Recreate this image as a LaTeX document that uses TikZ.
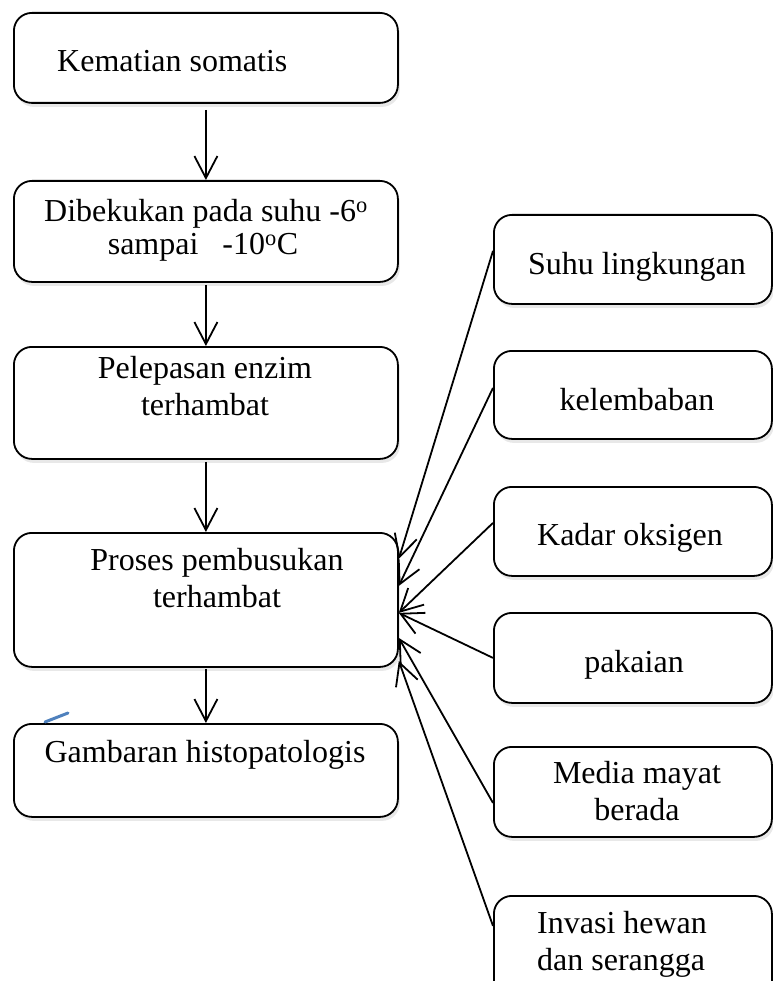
\documentclass[tikz,border=0pt]{standalone}
\usepackage{fontspec}
\setmainfont{Liberation Serif}
\usetikzlibrary{arrows.meta,shadows}
\begin{document}
\begin{tikzpicture}[x=1pt,y=-1pt,
  box/.style={draw=black, line width=1.8pt, rounded corners=18pt, fill=white,
    drop shadow={opacity=0.18, shadow xshift=2pt, shadow yshift=-4pt},
    inner sep=0pt, anchor=north west},
  lbl/.style={inner sep=0pt, font=\fontsize{32}{37}\selectfont},
  arr/.style={line width=1.8pt, -{Straight Barb[length=22pt,width=23pt,line width=1.8pt]}},
  bluestroke/.style={draw={rgb,255:red,79;green,129;blue,189}, line width=3pt, line cap=round},
]
\useasboundingbox (0,0) rectangle (772,981);

% left column boxes
\node[box, minimum width=384pt, minimum height=90pt]  (b1) at (13,12)  {};
\node[box, minimum width=384pt, minimum height=101pt] (b2) at (13,180) {};
\node[box, minimum width=384pt, minimum height=112pt] (b3) at (13,346) {};
\node[box, minimum width=384pt, minimum height=134pt] (b4) at (13,532) {};
\node[box, minimum width=384pt, minimum height=93pt]  (b5) at (13,723) {};

% right column boxes
\node[box, minimum width=278pt, minimum height=89pt]  (r1) at (493,214) {};
\node[box, minimum width=278pt, minimum height=88pt]  (r2) at (493,350) {};
\node[box, minimum width=278pt, minimum height=89pt]  (r3) at (493,486) {};
\node[box, minimum width=278pt, minimum height=90pt]  (r4) at (493,612) {};
\node[box, minimum width=278pt, minimum height=90pt]  (r5) at (493,746) {};
\node[box, minimum width=278pt, minimum height=110pt] (r6) at (493,895) {};

% texts
\node[lbl, anchor=base west] (t1)  at (57,72)   {Kematian somatis};
\node[lbl, anchor=base] (t2a) at (206,222) {Dibekukan pada suhu -6\textsuperscript{o}};
\node[lbl, anchor=base] (t2b) at (203,255) {sampai \ \ -10\textsuperscript{o}C};
\node[lbl, anchor=base] (t3a) at (205,378) {Pelepasan enzim};
\node[lbl, anchor=base] (t3b) at (205,415) {terhambat};
\node[lbl, anchor=base] (t4a) at (217,570) {Proses pembusukan};
\node[lbl, anchor=base] (t4b) at (217,607) {terhambat};
\node[lbl, anchor=base] (t5)  at (205,762) {Gambaran histopatologis};

\node[lbl, anchor=base] (s1)  at (637,275) {Suhu lingkungan};
\node[lbl, anchor=base] (s2)  at (637,410) {kelembaban};
\node[lbl, anchor=base] (s3)  at (630,545) {Kadar oksigen};
\node[lbl, anchor=base] (s4)  at (634,672) {pakaian};
\node[lbl, anchor=base] (s5a) at (637,783) {Media mayat};
\node[lbl, anchor=base] (s5b) at (637,820) {berada};
\node[lbl, anchor=base west] (s6a) at (537,933) {Invasi hewan};
\node[lbl, anchor=base west] (s6b) at (537,970) {dan serangga};

% vertical flow
\draw[arr] ([yshift=-6pt]b1.south) -- (b2.north);
\draw[arr] ([yshift=-2pt]b2.south) -- (b3.north);
\draw[arr] ([yshift=-2pt]b3.south) -- (b4.north);
\draw[arr] ([yshift=-1pt]b4.south) -- (b5.north);

% factors into b4
\draw[arr] ([yshift=8.5pt]r1.west) -- ([yshift=41pt]b4.east);
\draw[arr] ([yshift=7pt]r2.west)   -- ([yshift=14pt]b4.east);
\draw[arr] ([yshift=8.5pt]r3.west) -- ([yshift=-13pt]b4.east);
\draw[arr] (r4.west)               -- ([yshift=-13pt]b4.east);
\draw[arr] ([yshift=-11pt]r5.west) -- ([yshift=-38pt]b4.east);
\draw[arr] ([yshift=25pt]r6.west)  -- ([yshift=-61pt]b4.east);

% stray blue pen stroke
\coordinate (pa) at (45,722);
\coordinate (pb) at (68,713);
\draw[bluestroke] (pa) -- (pb);
\end{tikzpicture}
\end{document}
